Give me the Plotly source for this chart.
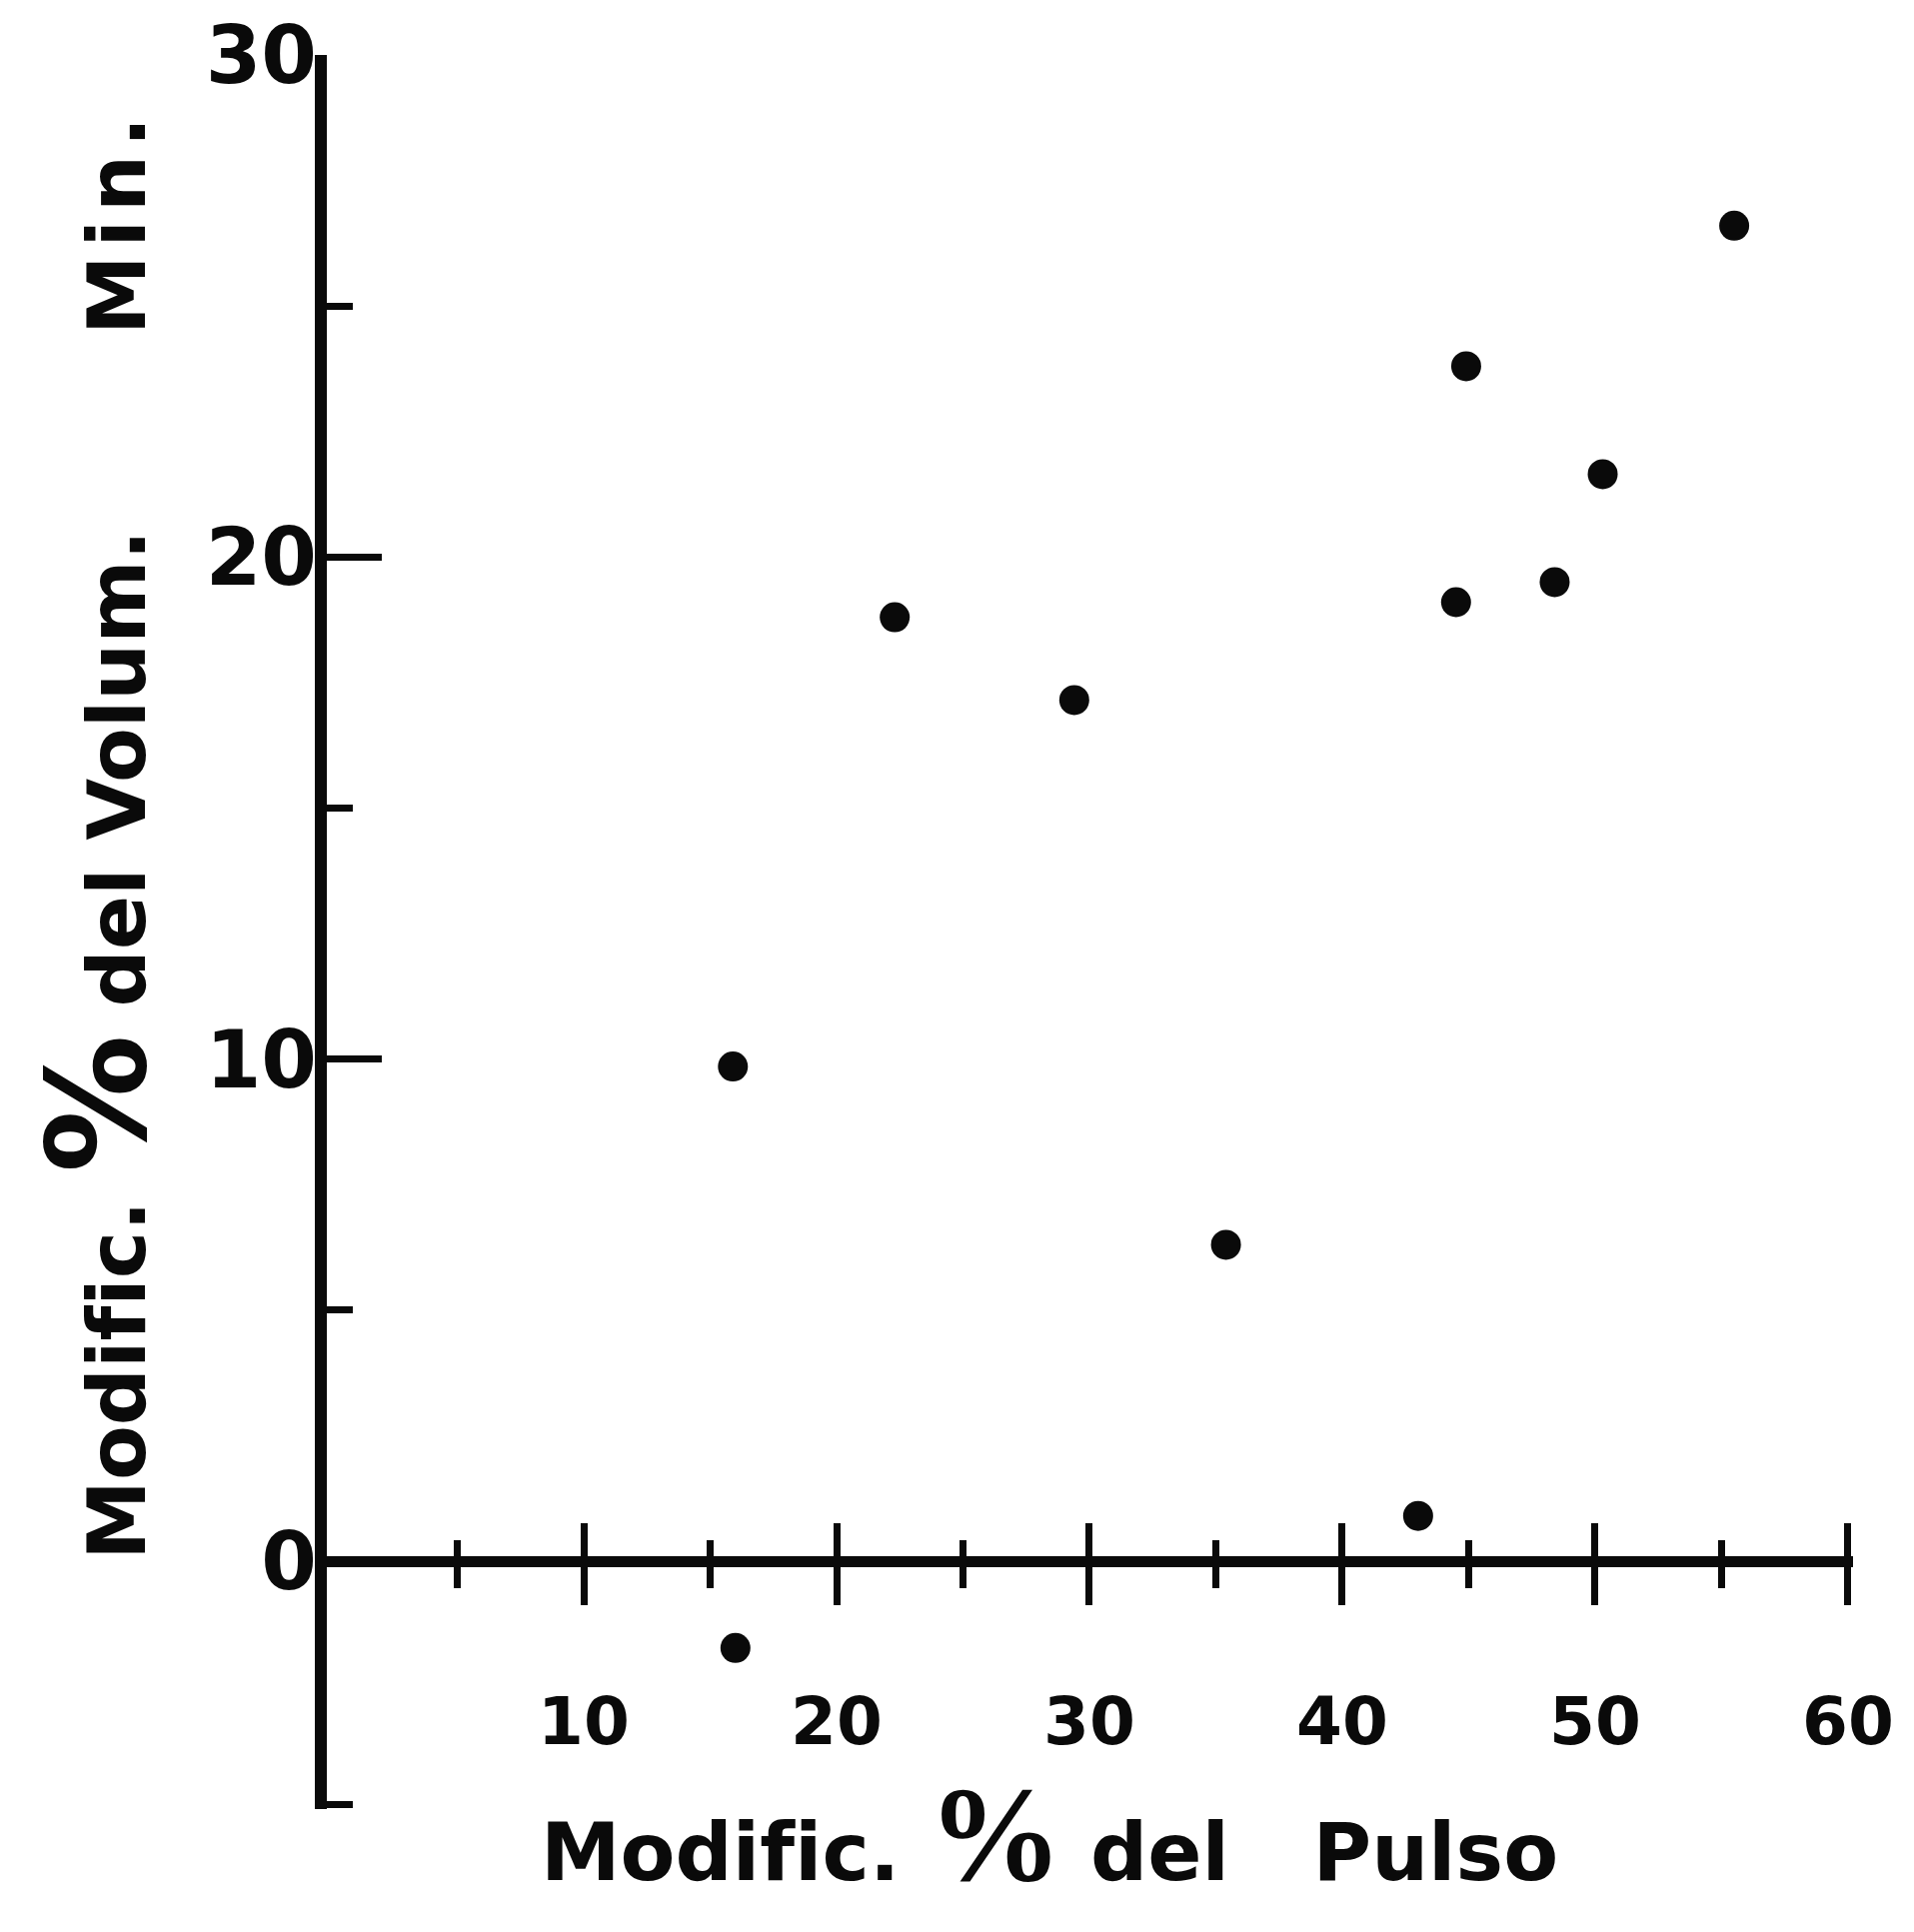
import plotly.graph_objects as go

# ---- data ----
pulse_change = [15.9, 16.0, 22.3, 29.4, 35.4, 43.0, 44.5, 44.9, 48.4, 50.3, 55.5]
volume_change = [9.85, -1.73, 18.8, 17.15, 6.3, 0.9, 19.1, 23.8, 19.5, 21.65, 26.6]

x_major = [10, 20, 30, 40, 50, 60]
x_major_text = ["10", "20", "30", "40", "50", "60"]
x_minor = [5, 15, 25, 35, 45, 55]
y_major = [0, 10, 20, 30]
y_major_text = ["0", "10", "20", "30"]
y_minor = [5, 15, 25]
y_axis_end = -4.86
x_range = [-0.16, 60.2]
y_range = [-4.94, 30]

NB = "\u00a0"
x_title = ("Modif\u200cic." + NB
           + "<span style=\"font-family:'Liberation Sans Narrow';font-size:135px\">%</span>"
           + NB + "del" + NB * 3 + "Pulso")
y_title = ("Modif\u200cic." + NB
           + "<span style='font-size:138px'>%</span>"
           + NB + "del" + NB + "Volum." + NB * 7 + "M\u200ai\u200an\u200a.")

FONT = "DejaVu Sans"
INK = "#0a0a0a"

x_pos = (0 - y_range[0]) / (y_range[1] - y_range[0])

fig = go.Figure()
fig.add_trace(go.Scatter(
    x=pulse_change, y=volume_change, mode="markers",
    marker=dict(size=30, color=INK, line=dict(width=0)),
    showlegend=False, hoverinfo="x+y",
))
# empty trace that registers the overlay axis carrying the upward half of the x ticks
fig.add_trace(go.Scatter(x=[], y=[], xaxis="x2", showlegend=False, hoverinfo="skip"))

common_x = dict(
    range=x_range, showgrid=False, zeroline=False,
    anchor="free", position=x_pos,
    tickmode="array", tickvals=x_major,
    tickwidth=7, tickcolor=INK,
)

fig.update_layout(
    width=1915, height=1933,
    margin=dict(l=319, r=69, t=47, b=131, autoexpand=False),
    paper_bgcolor="white", plot_bgcolor="white",
    font=dict(family=FONT, color=INK),
    xaxis=dict(
        **common_x,
        ticktext=x_major_text,
        showline=True, linewidth=11, linecolor=INK,
        ticks="outside", ticklen=38,
        minor=dict(tickmode="array", tickvals=x_minor, ticks="outside",
                   ticklen=21, tickwidth=7, tickcolor=INK, showgrid=False),
        tickfont=dict(size=66, family=FONT, color=INK, weight="bold"),
        ticklabelstandoff=60,
    ),
    xaxis2=dict(
        **common_x,
        overlaying="x", matches="x",
        showline=False, showticklabels=False,
        ticks="inside", ticklen=38,
        minor=dict(tickmode="array", tickvals=x_minor, ticks="inside",
                   ticklen=21, tickwidth=7, tickcolor=INK, showgrid=False),
    ),
    yaxis=dict(
        range=y_range, showgrid=False, zeroline=False,
        showline=True, linewidth=12, linecolor=INK,
        tickmode="array", tickvals=y_major, ticktext=y_major_text,
        ticks="inside", ticklen=55, tickwidth=7, tickcolor=INK,
        minor=dict(tickmode="array", tickvals=y_minor + [y_axis_end], ticks="inside",
                   ticklen=26, tickwidth=7, tickcolor=INK, showgrid=False),
        tickfont=dict(size=80, family=FONT, color=INK, weight="bold"),
        ticklabelstandoff=-18,
    ),
    annotations=[
        dict(text=x_title, xref="paper", yref="paper", x=0.4735, y=-0.0143,
             xanchor="center", yanchor="middle", showarrow=False,
             font=dict(size=80, family=FONT, color=INK, weight="bold")),
        dict(text=y_title, xref="paper", yref="paper", x=-0.1500, y=0.5534,
             xanchor="center", yanchor="middle", showarrow=False, textangle=-90,
             font=dict(size=80, family=FONT, color=INK, weight="bold")),
    ],
)

fig.write_html("out.html")
